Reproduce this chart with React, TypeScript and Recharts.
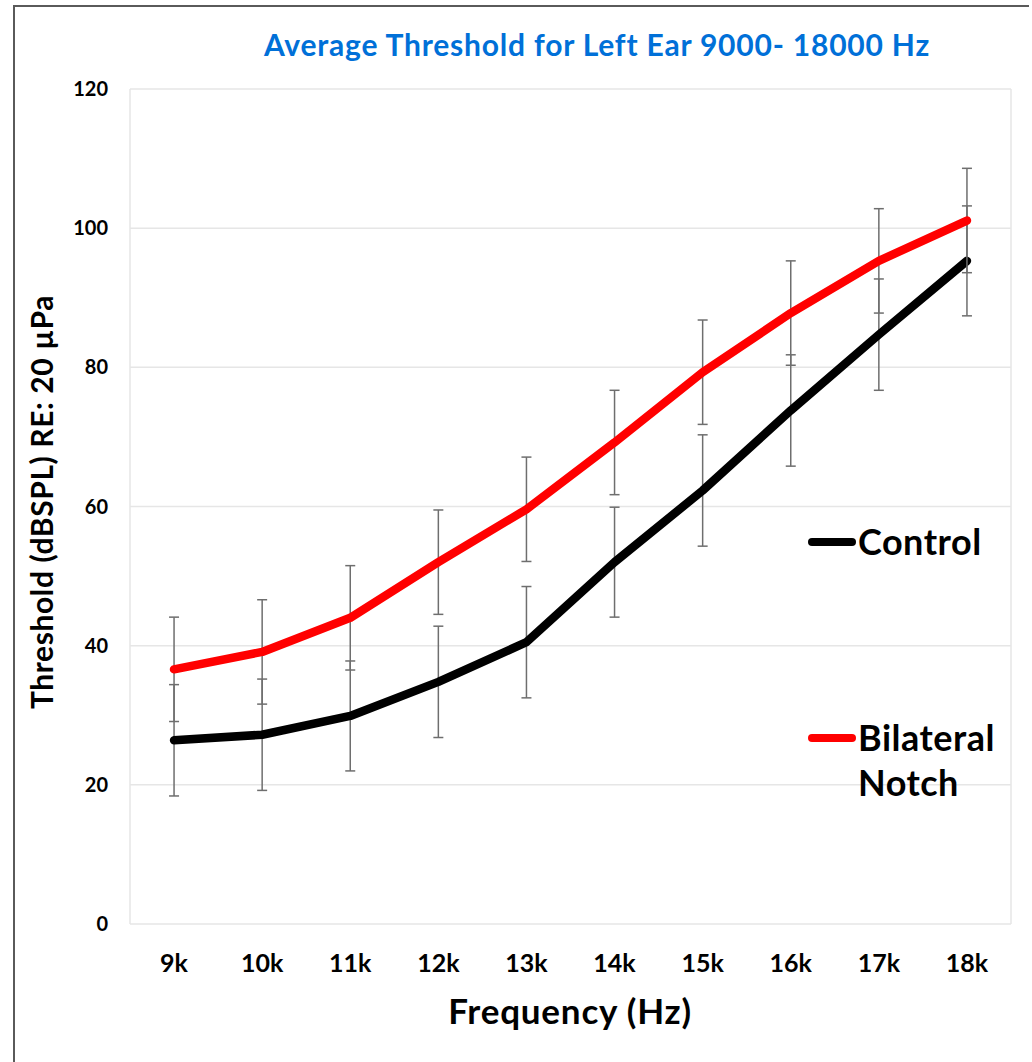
import { CartesianGrid, ErrorBar, Line, LineChart, XAxis, YAxis } from 'recharts'

// valores (dB SPL)
const frequencies = ['9k', '10k', '11k', '12k', '13k', '14k', '15k', '16k', '17k', '18k']
const control = [26.4, 27.2, 29.9, 34.8, 40.5, 52.0, 62.3, 73.8, 84.7, 95.3]
const controlSd = [8.0, 8.0, 7.9, 8.0, 8.0, 7.9, 8.0, 8.0, 8.0, 7.9]
const notch = [36.6, 39.1, 44.0, 52.0, 59.6, 69.2, 79.3, 87.8, 95.3, 101.1]
const notchSd = [7.5, 7.5, 7.5, 7.5, 7.5, 7.5, 7.5, 7.5, 7.5, 7.5]
const yTicks = [0, 20, 40, 60, 80, 100, 120]

const series = [
  { key: 'control', sd: 'controlSd', name: ['Control'], color: '#000000', legendY: 542 },
  { key: 'notch', sd: 'notchSd', name: ['Bilateral', 'Notch'], color: '#ff0000', legendY: 738 },
]

const data = frequencies.map((f, i) => ({
  freq: f,
  control: control[i],
  controlSd: controlSd[i],
  notch: notch[i],
  notchSd: notchSd[i],
}))

const font = 'Lato, "Open Sans", sans-serif'

// top de un div (lineHeight = fontSize) para centrar las mayusculas en y
const capTop = (y: number, f: number) => y - 0.528 * f

export default function App () {
  return (
    <div style={{ position: 'absolute', left: 0, top: 0, width: 1032, height: 1062, background: '#fff', fontFamily: font, overflow: 'hidden' }}>
      {/* marco exterior: solo arriba e izquierda */}
      <div style={{ position: 'absolute', left: 13, top: 5, width: 1016, height: 2, background: '#5a5a5a' }} />
      <div style={{ position: 'absolute', left: 13, top: 5, width: 2, height: 1057, background: '#5a5a5a' }} />

      <div style={{ position: 'absolute', left: 97, width: 1000, top: capTop(45, 30), fontSize: 30, lineHeight: '30px', letterSpacing: 0.8, fontWeight: 700, color: '#0070d8', textAlign: 'center', whiteSpace: 'nowrap' }}>
        Average Threshold for Left Ear 9000- 18000 Hz
      </div>

      <div style={{ position: 'absolute', left: 0, top: 0 }}>
        <LineChart width={1032} height={1062} data={data} margin={{ top: 89, right: 21, bottom: 108, left: 70 }}>
          <CartesianGrid
            stroke='#e6e6e6'
            strokeWidth={1.5}
            verticalCoordinatesGenerator={({ offset }: any) => [offset.left, offset.left + offset.width]}
          />
          <XAxis
            dataKey='freq'
            scale='band'
            axisLine={false}
            tickLine={false}
            tickSize={0}
            tickMargin={30}
            height={30}
            tick={{ fontSize: 25, fontWeight: 700, fill: '#000', fontFamily: font }}
          />
          <YAxis
            domain={[0, 120]}
            ticks={yTicks}
            axisLine={false}
            tickLine={false}
            tickSize={0}
            tickMargin={22}
            width={60}
            tick={{ fontSize: 20, fontWeight: 700, fill: '#000', fontFamily: font }}
          />
          {series.map(s => (
            <Line
              key={s.key}
              dataKey={s.key}
              type='linear'
              stroke={s.color}
              strokeWidth={8.5}
              strokeLinecap='round'
              strokeLinejoin='round'
              dot={false}
              activeDot={false}
              isAnimationActive={false}
            >
              <ErrorBar dataKey={s.sd} direction='y' width={5} stroke='#6e6e6e' strokeWidth={1.5} isAnimationActive={false} />
            </Line>
          ))}
        </LineChart>
      </div>

      <div style={{ position: 'absolute', left: 41 - 300, top: 502 - 15, width: 600, height: 30, fontSize: 30, lineHeight: '30px', letterSpacing: 0.6, fontWeight: 700, textAlign: 'center', transform: 'rotate(-90deg)', color: '#000', whiteSpace: 'nowrap' }}>
        Threshold (dBSPL) RE: 20 µPa
      </div>

      <div style={{ position: 'absolute', left: 70, width: 1000, top: capTop(1011, 35), fontSize: 35, lineHeight: '35px', letterSpacing: 0.8, fontWeight: 700, textAlign: 'center', color: '#000' }}>
        Frequency (Hz)
      </div>

      {series.map(s => (
        <div key={s.key}>
          <div style={{ position: 'absolute', left: 808, top: s.legendY - 4, width: 48, height: 8, borderRadius: 4, background: s.color }} />
          {s.name.map((t, j) => (
            <div key={t} style={{ position: 'absolute', left: 858, top: capTop(s.legendY + j * 45, 36), fontSize: 36, lineHeight: '36px', letterSpacing: 0.5, fontWeight: 700, color: '#000', whiteSpace: 'nowrap' }}>
              {t}
            </div>
          ))}
        </div>
      ))}
    </div>
  )
}
